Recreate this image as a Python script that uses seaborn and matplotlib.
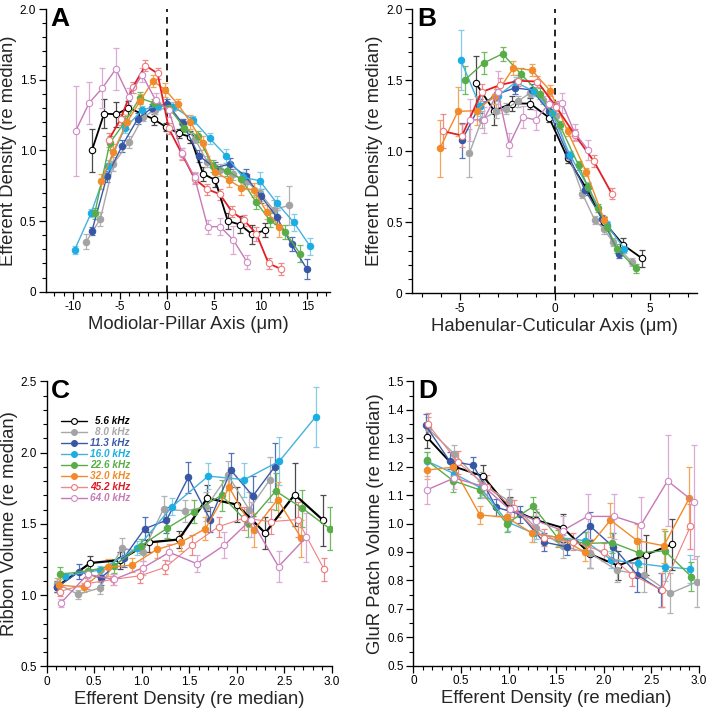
import matplotlib
matplotlib.use("Agg")
import matplotlib.pyplot as plt
import seaborn as sns
from matplotlib.ticker import MultipleLocator, FuncFormatter

# ---------------- data ----------------
freq_labels = ["5.6 kHz", "8.0 kHz", "11.3 kHz", "16.0 kHz",
               "22.6 kHz", "32.0 kHz", "45.2 kHz", "64.0 kHz"]

# Panel A : Modiolar-Pillar axis
A_56_x = [-8.0, -6.7, -5.4, -4.1, -2.7, -1.4, -0.1, 1.3, 2.5, 3.85, 5.15, 6.5, 7.8, 9.1, 10.5]
A_56_y = [1.00, 1.26, 1.255, 1.30, 1.26, 1.22, 1.165, 1.12, 1.095, 0.835, 0.79, 0.50, 0.475, 0.405, 0.435]
A_56_e = [0.15, 0.10, 0.09, 0.05, 0.04, 0.04, 0.03, 0.03, 0.04, 0.05, 0.05, 0.06, 0.06, 0.07, 0.05]
A_80_x = [-8.6, -7.1, -5.7, -4.0, -2.55, -1.3, 0.2, 1.6, 3.0, 4.3, 5.7, 7.1, 8.5, 9.9, 11.4, 13.0]
A_80_y = [0.355, 0.515, 0.905, 1.06, 1.235, 1.285, 1.30, 1.19, 1.08, 0.92, 0.86, 0.83, 0.78, 0.70, 0.58, 0.61]
A_80_e = [0.05, 0.05, 0.05, 0.04, 0.03, 0.03, 0.03, 0.03, 0.03, 0.04, 0.04, 0.04, 0.05, 0.06, 0.07, 0.14]
A_113_x = [-8.0, -6.4, -4.8, -3.1, -1.6, 0.0, 1.7, 3.45, 5.15, 6.75, 8.4, 10.05, 11.7, 13.3, 14.95]
A_113_y = [0.43, 0.815, 1.03, 1.225, 1.30, 1.33, 1.19, 0.96, 0.875, 0.905, 0.815, 0.675, 0.53, 0.335, 0.16]
A_113_e = [0.03, 0.04, 0.04, 0.04, 0.03, 0.03, 0.03, 0.04, 0.04, 0.04, 0.05, 0.05, 0.05, 0.05, 0.07]
A_160_x = [-9.85, -8.1, -6.3, -4.5, -2.65, -1.0, 0.7, 2.8, 4.55, 6.35, 8.1, 9.9, 11.7, 13.55, 15.3]
A_160_y = [0.295, 0.555, 0.89, 1.155, 1.285, 1.315, 1.31, 1.215, 1.085, 0.96, 0.81, 0.785, 0.63, 0.49, 0.32]
A_160_e = [0.03, 0.03, 0.04, 0.03, 0.03, 0.03, 0.03, 0.03, 0.04, 0.05, 0.04, 0.06, 0.05, 0.06, 0.06]
A_226_x = [-7.7, -6.1, -4.5, -2.9, -1.35, 0.25, 1.85, 3.3, 4.9, 6.4, 7.95, 9.5, 11.0, 12.6, 14.2]
A_226_y = [0.555, 1.05, 1.20, 1.37, 1.335, 1.30, 1.16, 1.10, 0.89, 0.855, 0.795, 0.635, 0.505, 0.425, 0.27]
A_226_e = [0.04, 0.05, 0.04, 0.04, 0.03, 0.03, 0.03, 0.04, 0.04, 0.04, 0.05, 0.05, 0.05, 0.05, 0.06]
A_320_x = [-7.0, -5.75, -4.25, -2.85, -1.5, -0.2, 1.2, 2.5, 3.85, 5.15, 6.6, 7.95, 9.25, 10.65, 12.0]
A_320_y = [0.78, 0.985, 1.20, 1.35, 1.49, 1.43, 1.325, 1.20, 1.055, 0.85, 0.79, 0.735, 0.72, 0.565, 0.46]
A_320_e = [0.05, 0.06, 0.05, 0.05, 0.04, 0.05, 0.04, 0.05, 0.05, 0.04, 0.05, 0.05, 0.05, 0.05, 0.07]
A_452_x = [-6.2, -4.95, -3.65, -2.3, -1.0, 0.2, 1.6, 2.95, 4.3, 5.65, 6.95, 8.25, 9.55, 10.85, 12.2]
A_452_y = [1.075, 1.22, 1.445, 1.60, 1.545, 1.155, 0.975, 0.80, 0.725, 0.69, 0.565, 0.505, 0.41, 0.20, 0.16]
A_452_e = [0.05, 0.04, 0.04, 0.04, 0.04, 0.04, 0.04, 0.04, 0.04, 0.04, 0.04, 0.04, 0.05, 0.04, 0.04]
A_640_x = [-9.75, -8.3, -6.9, -5.45, -4.05, -2.65, -1.2, 0.2, 1.6, 2.95, 4.35, 5.7, 7.1, 8.55]
A_640_y = [1.135, 1.335, 1.44, 1.575, 1.38, 1.535, 1.355, 1.285, 0.98, 0.81, 0.46, 0.46, 0.365, 0.21]
A_640_e = [0.32, 0.15, 0.14, 0.15, 0.06, 0.05, 0.05, 0.05, 0.04, 0.04, 0.05, 0.06, 0.10, 0.05]

# Panel B : Habenular-Cuticular axis
B_56_x = [-4.17, -3.2, -2.27, -1.3, -0.3, 0.67, 1.65, 2.6, 3.6, 4.6]
B_56_y = [1.48, 1.285, 1.335, 1.335, 1.235, 0.95, 0.74, 0.50, 0.34, 0.245]
B_56_e = [0.19, 0.10, 0.05, 0.04, 0.03, 0.03, 0.03, 0.04, 0.05, 0.06]
B_80_x = [-4.5, -3.85, -3.1, -2.55, -1.95, -1.3, -0.65, 0.05, 0.75, 1.45, 2.1, 2.6, 3.05, 4.05]
B_80_y = [0.985, 1.22, 1.28, 1.30, 1.35, 1.41, 1.36, 1.25, 0.96, 0.70, 0.515, 0.45, 0.36, 0.22]
B_80_e = [0.17, 0.06, 0.05, 0.04, 0.04, 0.03, 0.03, 0.03, 0.03, 0.03, 0.03, 0.03, 0.03, 0.03]
B_113_x = [-4.9, -3.95, -3.05, -2.1, -1.2, -0.3, 0.7, 1.6, 2.5, 3.4]
B_113_y = [1.075, 1.32, 1.40, 1.445, 1.43, 1.28, 0.97, 0.725, 0.52, 0.275]
B_113_e = [0.12, 0.05, 0.04, 0.04, 0.04, 0.03, 0.03, 0.03, 0.03, 0.03]
B_160_x = [-4.95, -3.95, -3.0, -2.05, -1.1, -0.15, 0.8, 1.75, 2.75, 3.65]
B_160_y = [1.64, 1.32, 1.39, 1.485, 1.42, 1.27, 0.97, 0.75, 0.48, 0.315]
B_160_e = [0.21, 0.07, 0.04, 0.04, 0.03, 0.03, 0.03, 0.03, 0.03, 0.03]
B_226_x = [-4.75, -3.75, -2.75, -1.8, -0.8, 0.25, 1.25, 1.75, 2.25, 2.75, 3.25, 4.25]
B_226_y = [1.50, 1.62, 1.685, 1.545, 1.405, 1.185, 0.90, 0.745, 0.60, 0.47, 0.315, 0.175]
B_226_e = [0.10, 0.08, 0.05, 0.04, 0.04, 0.03, 0.03, 0.03, 0.03, 0.03, 0.03, 0.03]
B_320_x = [-6.05, -5.1, -4.12, -3.15, -2.18, -1.21, -0.25, 0.67, 1.65, 2.6]
B_320_y = [1.02, 1.28, 1.285, 1.39, 1.585, 1.57, 1.425, 1.14, 0.855, 0.515]
B_320_e = [0.20, 0.17, 0.10, 0.06, 0.05, 0.04, 0.04, 0.03, 0.03, 0.03]
B_452_x = [-5.88, -4.88, -3.86, -2.9, -1.92, -0.92, 0.08, 1.05, 2.05, 3.0]
B_452_y = [1.14, 1.11, 1.415, 1.465, 1.495, 1.49, 1.31, 1.115, 0.93, 0.70]
B_452_e = [0.12, 0.08, 0.06, 0.05, 0.04, 0.04, 0.04, 0.04, 0.04, 0.04]
B_640_x = [-4.44, -3.75, -3.0, -2.4, -1.7, -1.0, -0.33, 0.37, 1.04, 1.74]
B_640_y = [1.22, 1.22, 1.415, 1.045, 1.24, 1.22, 1.33, 1.34, 1.13, 1.01]
B_640_e = [0.15, 0.09, 0.15, 0.08, 0.08, 0.07, 0.07, 0.07, 0.06, 0.07]

# Panel C : Ribbon volume vs efferent density
C_56_x = [0.11, 0.46, 0.77, 1.08, 1.39, 1.69, 2.0, 2.3, 2.61, 2.91]
C_56_y = [1.06, 1.225, 1.245, 1.37, 1.39, 1.68, 1.635, 1.435, 1.705, 1.525]
C_56_e = [0.04, 0.05, 0.06, 0.07, 0.06, 0.09, 0.12, 0.11, 0.22, 0.18]
C_80_x = [0.11, 0.33, 0.56, 0.79, 1.01, 1.23, 1.46, 1.68, 1.91, 2.13, 2.35]
C_80_y = [1.08, 1.005, 1.05, 1.33, 1.30, 1.605, 1.59, 1.62, 1.84, 1.60, 1.81]
C_80_e = [0.04, 0.03, 0.04, 0.07, 0.06, 0.09, 0.08, 0.10, 0.10, 0.12, 0.16]
C_113_x = [0.11, 0.34, 0.57, 0.81, 1.03, 1.26, 1.49, 1.72, 1.94, 2.17, 2.40]
C_113_y = [1.055, 1.165, 1.12, 1.26, 1.465, 1.525, 1.825, 1.53, 1.875, 1.695, 1.90]
C_113_e = [0.03, 0.05, 0.05, 0.06, 0.08, 0.09, 0.11, 0.09, 0.12, 0.14, 0.17]
C_160_x = [0.19, 0.56, 0.95, 1.32, 1.70, 2.08, 2.45, 2.83]
C_160_y = [1.135, 1.175, 1.33, 1.62, 1.835, 1.81, 1.94, 2.25]
C_160_e = [0.02, 0.03, 0.05, 0.06, 0.09, 0.12, 0.17, 0.21]
C_226_x = [0.14, 0.43, 0.71, 0.99, 1.27, 1.55, 1.84, 2.12, 2.41, 2.69, 2.98]
C_226_y = [1.145, 1.17, 1.205, 1.345, 1.47, 1.585, 1.70, 1.505, 1.73, 1.61, 1.465]
C_226_e = [0.05, 0.04, 0.05, 0.05, 0.07, 0.08, 0.11, 0.10, 0.13, 0.13, 0.15]
C_320_x = [0.13, 0.39, 0.64, 0.90, 1.16, 1.41, 1.67, 1.92, 2.18, 2.43, 2.68]
C_320_y = [1.07, 1.055, 1.195, 1.21, 1.32, 1.37, 1.465, 1.755, 1.455, 1.67, 1.40]
C_320_e = [0.04, 0.03, 0.06, 0.05, 0.06, 0.06, 0.08, 0.11, 0.12, 0.12, 0.13]
C_452_x = [0.14, 0.42, 0.70, 0.98, 1.25, 1.53, 1.81, 2.08, 2.36, 2.64, 2.92]
C_452_y = [1.025, 1.08, 1.11, 1.135, 1.195, 1.35, 1.48, 1.54, 1.515, 1.53, 1.18]
C_452_e = [0.03, 0.04, 0.04, 0.05, 0.05, 0.07, 0.07, 0.08, 0.09, 0.12, 0.08]
C_640_x = [0.15, 0.43, 0.71, 1.01, 1.29, 1.58, 1.87, 2.15, 2.44, 2.73]
C_640_y = [0.945, 1.145, 1.11, 1.19, 1.30, 1.22, 1.35, 1.53, 1.20, 1.405]
C_640_e = [0.03, 0.04, 0.04, 0.05, 0.06, 0.06, 0.09, 0.12, 0.11, 0.17]

# Panel D : GluR patch volume vs efferent density
D_56_x = [0.14, 0.43, 0.73, 1.01, 1.29, 1.57, 1.86, 2.15, 2.44, 2.72]
D_56_y = [1.305, 1.20, 1.167, 1.053, 1.012, 0.985, 0.892, 0.852, 0.89, 0.927]
D_56_e = [0.04, 0.04, 0.04, 0.04, 0.03, 0.05, 0.05, 0.05, 0.07, 0.09]
D_80_x = [0.15, 0.43, 0.72, 1.0, 1.29, 1.57, 1.86, 2.14, 2.42, 2.70, 2.98]
D_80_y = [1.335, 1.245, 1.14, 1.08, 0.985, 0.92, 0.895, 0.835, 0.82, 0.755, 0.795]
D_80_e = [0.04, 0.03, 0.04, 0.04, 0.04, 0.04, 0.05, 0.04, 0.06, 0.07, 0.09]
D_113_x = [0.13, 0.38, 0.63, 0.87, 1.12, 1.37, 1.61, 1.86, 2.10, 2.35, 2.60]
D_113_y = [1.345, 1.22, 1.205, 1.057, 1.033, 0.935, 0.918, 0.99, 0.918, 0.82, 0.766]
D_113_e = [0.04, 0.03, 0.03, 0.03, 0.03, 0.03, 0.03, 0.05, 0.05, 0.06, 0.06]
D_160_x = [0.14, 0.43, 0.71, 0.99, 1.27, 1.53, 1.80, 2.08, 2.36, 2.64, 2.91]
D_160_y = [1.22, 1.175, 1.125, 1.005, 0.965, 0.95, 0.94, 0.872, 0.86, 0.848, 0.84]
D_160_e = [0.03, 0.03, 0.03, 0.03, 0.03, 0.03, 0.03, 0.03, 0.04, 0.05, 0.05]
D_226_x = [0.14, 0.42, 0.70, 0.98, 1.26, 1.52, 1.81, 2.09, 2.37, 2.64, 2.92]
D_226_y = [1.222, 1.15, 1.118, 1.0, 1.06, 0.948, 0.93, 0.933, 0.897, 0.904, 0.813]
D_226_e = [0.03, 0.04, 0.03, 0.03, 0.035, 0.03, 0.04, 0.035, 0.05, 0.07, 0.05]
D_320_x = [0.14, 0.42, 0.70, 0.98, 1.25, 1.53, 1.80, 2.07, 2.35, 2.63, 2.90]
D_320_y = [1.188, 1.198, 1.03, 1.022, 0.965, 0.951, 0.90, 1.012, 0.94, 0.922, 1.09]
D_320_e = [0.03, 0.03, 0.03, 0.03, 0.03, 0.03, 0.03, 0.06, 0.06, 0.06, 0.11]
D_452_x = [0.15, 0.47, 0.77, 1.06, 1.37, 1.68, 2.0, 2.30, 2.61, 2.91]
D_452_y = [1.35, 1.215, 1.13, 1.053, 0.95, 0.936, 0.90, 0.82, 0.766, 0.99]
D_452_e = [0.04, 0.04, 0.04, 0.03, 0.03, 0.03, 0.03, 0.04, 0.06, 0.08]
D_640_x = [0.14, 0.43, 0.74, 1.01, 1.29, 1.57, 1.83, 2.11, 2.39, 2.67, 2.95]
D_640_y = [1.118, 1.16, 1.13, 1.05, 1.01, 0.975, 1.025, 1.025, 0.995, 1.15, 1.075]
D_640_e = [0.05, 0.04, 0.04, 0.04, 0.04, 0.05, 0.08, 0.08, 0.10, 0.16, 0.20]

# ---------------- styles ----------------
line_colors = ["#000000", "#a8a8a8", "#3b5aa8", "#45b1de", "#58ad48", "#f28a2a", "#e41e26", "#c779b6"]
marker_colors = ["#000000", "#a3a3a3", "#3756a5", "#1aaee5", "#58ad48", "#f28a2a", "#ef7a7a", "#cf8cc3"]
err_colors = ["#4a4a4a", "#b3b3b3", "#5072b8", "#86cce8", "#6dbb5c", "#f4a555", "#f08a8a", "#dcaad6"]
text_colors = ["#000000", "#a8a8a8", "#3b5aa8", "#1aaee5", "#58ad48", "#f28a2a", "#e01b24", "#c779b6"]
filled = [False, True, True, True, True, True, False, False]

sns.set_theme(style="ticks")
plt.rcParams["font.family"] = ["Liberation Sans", "DejaVu Sans"]
plt.rcParams["axes.unicode_minus"] = False

LABEL_SIZE = 13.3

fig = plt.figure(figsize=(7.08, 7.09), dpi=100)
axA = fig.add_axes([0.065, 0.5886, 0.401, 0.3987])
axB = fig.add_axes([0.5824, 0.5863, 0.4026, 0.401])
axC = fig.add_axes([0.066, 0.0602, 0.4025, 0.402])
axD = fig.add_axes([0.5838, 0.061, 0.4035, 0.4012])


def draw_series(ax, xs, ys, es, i, lw, red_line=None):
    lc = line_colors[i] if red_line is None else red_line
    ax.errorbar(xs, ys, yerr=es, fmt="none", ecolor=err_colors[i],
                elinewidth=0.9, capsize=2.0, capthick=0.9, zorder=2 + i * 0.1)
    fc = marker_colors[i] if filled[i] else "white"
    sns.lineplot(x=xs, y=ys, ax=ax, estimator=None, sort=False,
                 color=lc, linewidth=lw, marker="o", markersize=4.6,
                 markerfacecolor=fc, markeredgecolor=marker_colors[i],
                 markeredgewidth=0.8, zorder=3 + i * 0.1, legend=False)


def style_axes(ax, xlim, ylim, xmaj, xmin, ymaj, ymin, xfmt, yfmt, xlabel, ylabel):
    ax.set_xlim(*xlim)
    ax.set_ylim(*ylim)
    for s in ["top", "right"]:
        ax.spines[s].set_visible(False)
    for s in ["left", "bottom"]:
        ax.spines[s].set_linewidth(1.0)
        ax.spines[s].set_color("black")
    ax.xaxis.set_major_locator(MultipleLocator(xmaj))
    ax.xaxis.set_minor_locator(MultipleLocator(xmin))
    ax.yaxis.set_major_locator(MultipleLocator(ymaj))
    ax.yaxis.set_minor_locator(MultipleLocator(ymin))
    ax.xaxis.set_major_formatter(FuncFormatter(xfmt))
    ax.yaxis.set_major_formatter(FuncFormatter(yfmt))
    ax.tick_params(which="major", direction="out", length=5, width=0.9,
                   labelsize=8.5, colors="black", pad=2)
    ax.tick_params(which="minor", direction="out", length=3, width=0.8, colors="black")
    ax.set_xlabel(xlabel, fontsize=LABEL_SIZE, labelpad=2)
    ax.set_ylabel(ylabel, fontsize=LABEL_SIZE, labelpad=2)
    ax.grid(False)
    ax.set_facecolor("white")


def fmt_int(v, pos):
    return "%d" % round(v)


def fmt_dec(v, pos):
    return "0" if abs(v) < 1e-9 else "%.1f" % v


# ---- Panel A
A_sets = [(A_56_x, A_56_y, A_56_e), (A_80_x, A_80_y, A_80_e), (A_113_x, A_113_y, A_113_e),
          (A_160_x, A_160_y, A_160_e), (A_226_x, A_226_y, A_226_e), (A_320_x, A_320_y, A_320_e),
          (A_452_x, A_452_y, A_452_e), (A_640_x, A_640_y, A_640_e)]
axA.axvline(0, color="black", lw=1.2, ls=(0, (4, 3)), zorder=1)
for i, (xs, ys, es) in enumerate(A_sets):
    draw_series(axA, xs, ys, es, i, 1.3 if i in (0, 6) else 1.0)
style_axes(axA, (-12.9, 17.4), (0, 2.0), 5, 1, 0.5, 0.1, fmt_int, fmt_dec,
           "Modiolar-Pillar Axis (μm)", "Efferent Density (re median)")

# ---- Panel B
B_sets = [(B_56_x, B_56_y, B_56_e), (B_80_x, B_80_y, B_80_e), (B_113_x, B_113_y, B_113_e),
          (B_160_x, B_160_y, B_160_e), (B_226_x, B_226_y, B_226_e), (B_320_x, B_320_y, B_320_e),
          (B_452_x, B_452_y, B_452_e), (B_640_x, B_640_y, B_640_e)]
axB.axvline(0, color="black", lw=1.2, ls=(0, (4, 3)), zorder=1)
for i, (xs, ys, es) in enumerate(B_sets):
    draw_series(axB, xs, ys, es, i, 1.3 if i in (0, 6) else 1.0)
style_axes(axB, (-7.5, 7.5), (0, 2.0), 5, 1, 0.5, 0.1, fmt_int, fmt_dec,
           "Habenular-Cuticular Axis (μm)", "Efferent Density (re median)")

# ---- Panel C
C_sets = [(C_56_x, C_56_y, C_56_e), (C_80_x, C_80_y, C_80_e), (C_113_x, C_113_y, C_113_e),
          (C_160_x, C_160_y, C_160_e), (C_226_x, C_226_y, C_226_e), (C_320_x, C_320_y, C_320_e),
          (C_452_x, C_452_y, C_452_e), (C_640_x, C_640_y, C_640_e)]
for i, (xs, ys, es) in enumerate(C_sets):
    draw_series(axC, xs, ys, es, i, 1.6 if i == 0 else (0.8 if i == 6 else 1.0),
                red_line="#f08080" if i == 6 else None)
style_axes(axC, (0, 3.0), (0.5, 2.5), 0.5, 0.1, 0.5, 0.1, fmt_dec, fmt_dec,
           "Efferent Density (re median)", "Ribbon Volume (re median)")

# legend for panel C
for i, lab in enumerate(freq_labels):
    yy = 0.861 - i * 0.0386
    lc = "#f08a8a" if i == 6 else line_colors[i]
    axC.plot([0.050, 0.140], [yy, yy], transform=axC.transAxes, color=lc, lw=1.0,
             clip_on=False, zorder=5)
    axC.plot([0.0955], [yy], transform=axC.transAxes, marker="o", markersize=4.2,
             markerfacecolor=marker_colors[i] if filled[i] else "white",
             markeredgecolor=marker_colors[i], markeredgewidth=0.8, lw=0,
             clip_on=False, zorder=6)
    axC.text(0.292, yy, lab, transform=axC.transAxes, ha="right", va="center",
             fontsize=7.2, fontweight="bold", fontstyle="italic", color=text_colors[i])

# ---- Panel D
D_sets = [(D_56_x, D_56_y, D_56_e), (D_80_x, D_80_y, D_80_e), (D_113_x, D_113_y, D_113_e),
          (D_160_x, D_160_y, D_160_e), (D_226_x, D_226_y, D_226_e), (D_320_x, D_320_y, D_320_e),
          (D_452_x, D_452_y, D_452_e), (D_640_x, D_640_y, D_640_e)]
for i, (xs, ys, es) in enumerate(D_sets):
    draw_series(axD, xs, ys, es, i, 1.4 if i == 0 else (0.8 if i == 6 else 1.0),
                red_line="#f08080" if i == 6 else None)
style_axes(axD, (0, 3.0), (0.5, 1.5), 0.5, 0.1, 0.1, 0.05, fmt_dec, fmt_dec,
           "Efferent Density (re median)", "GluR Patch Volume (re median)")

# panel letters
for ax, letter in [(axA, "A"), (axB, "B"), (axC, "C"), (axD, "D")]:
    ax.text(0.016, 1.008, letter, transform=ax.transAxes, ha="left", va="top",
            fontsize=19, fontweight="bold", color="black")

fig.savefig("out.png", dpi=100, facecolor="white")
